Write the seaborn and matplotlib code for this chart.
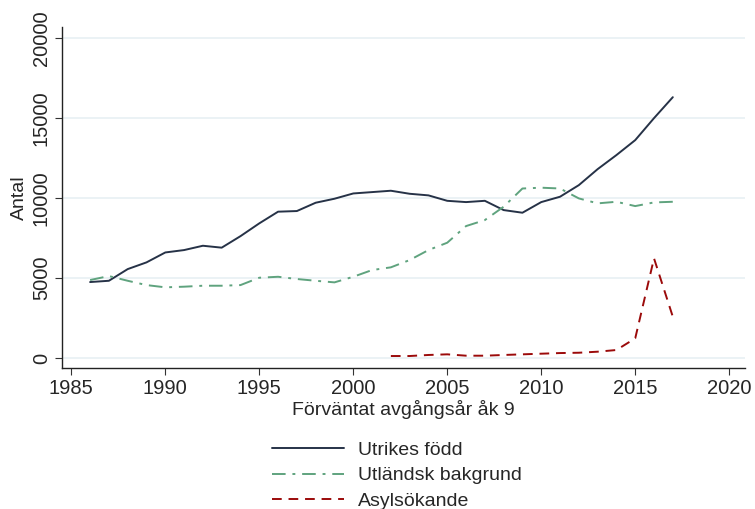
import matplotlib
matplotlib.use("Agg")
import matplotlib.pyplot as plt
import seaborn as sns
import pandas as pd

years = list(range(1986, 2018))
utrikes_fodd = [4750, 4830, 5560, 5980, 6600, 6750, 7020, 6900, 7620, 8420,
                9150, 9190, 9710, 9960, 10290, 10375, 10460, 10270, 10170, 9830,
                9750, 9830, 9250, 9085, 9750, 10085, 10810, 11810, 12690, 13625,
                15000, 16310]
utlandsk_bakgrund = [4875, 5125, 4830, 4560, 4420, 4460, 4520, 4520, 4560, 5020,
                     5080, 4940, 4830, 4730, 5080, 5500, 5670, 6125, 6750, 7210,
                     8250, 8625, 9460, 10600, 10650, 10600, 9980, 9670, 9770, 9500,
                     9730, 9770]
asyl_years = list(range(2002, 2018))
asylsokande = [125, 125, 190, 230, 145, 145, 190, 230, 270, 310,
               330, 395, 500, 1230, 6230, 2580]

yticks = [0, 5000, 10000, 15000, 20000]
xticks = [1985, 1990, 1995, 2000, 2005, 2010, 2015, 2020]

sns.set_style("white")
plt.rcParams['font.family'] = ['Liberation Sans', 'DejaVu Sans']

fig = plt.figure(figsize=(7.55, 5.09), dpi=100)
ax = fig.add_axes([0.082, 0.277, 0.905, 0.670])

df1 = pd.DataFrame({"year": years, "val": utrikes_fodd})
df2 = pd.DataFrame({"year": years, "val": utlandsk_bakgrund})
df3 = pd.DataFrame({"year": asyl_years, "val": asylsokande})

sns.lineplot(data=df1, x="year", y="val", ax=ax, color="#263247", lw=1.4,
             label="Utrikes född")
sns.lineplot(data=df2, x="year", y="val", ax=ax, color="#5fa37e", lw=1.4,
             label="Utländsk bakgrund")
ax.lines[-1].set_dashes([7, 3.5, 1.5, 3.5])
sns.lineplot(data=df3, x="year", y="val", ax=ax, color="#9b0a0a", lw=1.4,
             label="Asylsökande")
ax.lines[-1].set_dashes([5, 3.5])

ax.set_xlim(1984.5, 2020.85)
ax.set_ylim(-625, 20700)
ax.set_xticks(xticks)
ax.set_yticks(yticks)
ax.set_yticklabels([str(t) for t in yticks], rotation=90, va="center")
ax.tick_params(axis="both", labelsize=14.5, length=5, color="#333333",
               direction="out", bottom=True, left=True, pad=3)
ax.yaxis.grid(True, color="#e8f0f3", lw=1.2)
ax.set_axisbelow(True)
for s in ["top", "right"]:
    ax.spines[s].set_visible(False)
for s in ["left", "bottom"]:
    ax.spines[s].set_color("#222222")
    ax.spines[s].set_linewidth(1.0)

ax.set_xlabel("Förväntat avgångsår åk 9", fontsize=14, labelpad=1)
ax.set_ylabel("Antal", fontsize=14, labelpad=3)

leg = ax.legend(loc="upper center", bbox_to_anchor=(0.49, -0.163), frameon=False,
                fontsize=14, handlelength=3.7, labelspacing=0.42, handletextpad=0.7)
for h in leg.get_lines():
    h.set_linewidth(1.4)

fig.savefig("out.png", dpi=100)
